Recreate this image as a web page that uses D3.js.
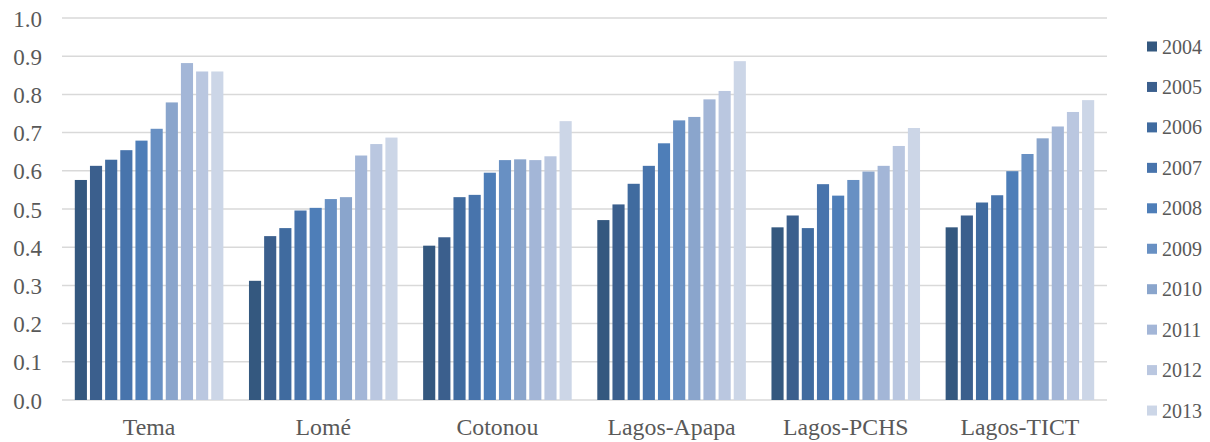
<!DOCTYPE html>
<html>
<head>
<meta charset="utf-8">
<script src="https://cdn.jsdelivr.net/npm/d3@7/dist/d3.min.js"></script>
<style>
  html, body { margin: 0; padding: 0; background: #ffffff; }
  svg { display: block; }
  text { font-family: "Liberation Serif", "Times New Roman", serif; fill: #595959; }
</style>
</head>
<body>
<svg id="chart" width="1210" height="442"></svg>
<script>
// Port terminals and the years shown for each
const ports = ["Tema", "Lomé", "Cotonou", "Lagos-Apapa", "Lagos-PCHS", "Lagos-TICT"];
const years = ["2004", "2005", "2006", "2007", "2008", "2009", "2010", "2011", "2012", "2013"];

// One array per port, values for 2004..2013
const tema       = [0.576, 0.613, 0.629, 0.654, 0.679, 0.710, 0.779, 0.882, 0.860, 0.860];
const lome       = [0.312, 0.429, 0.450, 0.496, 0.503, 0.526, 0.531, 0.640, 0.670, 0.687];
const cotonou    = [0.404, 0.426, 0.531, 0.537, 0.595, 0.628, 0.630, 0.628, 0.638, 0.730];
const lagosApapa = [0.471, 0.512, 0.566, 0.613, 0.672, 0.732, 0.741, 0.787, 0.809, 0.887];
const lagosPCHS  = [0.452, 0.483, 0.450, 0.565, 0.535, 0.576, 0.598, 0.613, 0.665, 0.712];
const lagosTICT  = [0.452, 0.483, 0.517, 0.536, 0.599, 0.644, 0.685, 0.716, 0.754, 0.785];

const yTicks = [0.0, 0.1, 0.2, 0.3, 0.4, 0.5, 0.6, 0.7, 0.8, 0.9, 1.0];

const seriesByPort = [tema, lome, cotonou, lagosApapa, lagosPCHS, lagosTICT];
const yearColors = ["#34587f", "#3b5f8d", "#406b9f", "#4874ac", "#4e7eb8", "#6890c3",
                    "#8aa5cc", "#a3b6d7", "#bac7e0", "#ccd6e7"];

const svg = d3.select("#chart");
const plot = { left: 62, right: 1107, top: 18, bottom: 400 };
const serif = "'Liberation Serif', 'Times New Roman', serif";

const x0 = d3.scaleBand().domain(ports).range([plot.left, plot.right])
  .paddingInner(0.147).paddingOuter(0.0735);
const x1 = d3.scaleBand().domain(years).range([0, x0.bandwidth()])
  .paddingInner(0.2).paddingOuter(0);
const y = d3.scaleLinear().domain([0, 1]).range([plot.bottom, plot.top]);
const color = d3.scaleOrdinal().domain(years).range(yearColors);

// horizontal gridlines
svg.append("g").selectAll("line").data(yTicks).join("line")
  .attr("x1", plot.left).attr("x2", plot.right)
  .attr("y1", d => y(d)).attr("y2", d => y(d))
  .attr("stroke", "#d9d9d9").attr("stroke-width", 1.5);

// y axis labels
const yAxis = d3.axisLeft(y).tickValues(yTicks).tickFormat(d3.format(".1f")).tickSize(0).tickPadding(0);
const ya = svg.append("g").attr("transform", `translate(${plot.left - 20},0)`).call(yAxis);
ya.select(".domain").remove();
ya.attr("font-family", serif);
ya.selectAll("text").attr("font-size", 23).attr("fill", "#595959")
  .style("font-family", serif).attr("dy", "0.35em");

// bars
const groups = svg.append("g").selectAll("g").data(ports).join("g")
  .attr("transform", d => `translate(${x0(d)},0)`);
groups.selectAll("rect")
  .data((p, i) => seriesByPort[i].map((v, j) => ({ year: years[j], value: v })))
  .join("rect")
  .attr("x", d => x1(d.year))
  .attr("width", x1.bandwidth())
  .attr("y", d => y(d.value))
  .attr("height", d => y(0) - y(d.value))
  .attr("fill", d => color(d.year));

// x axis category labels
const xAxis = d3.axisBottom(x0).tickSize(0).tickPadding(0);
const xa = svg.append("g").attr("transform", `translate(0,${plot.bottom + 35})`).call(xAxis);
xa.select(".domain").remove();
xa.attr("font-family", serif);
xa.selectAll("text").attr("font-size", 23.8).attr("fill", "#595959").attr("dy", 0)
  .style("font-family", serif);

// legend
const legend = svg.append("g").selectAll("g").data(years).join("g")
  .attr("transform", (d, i) => `translate(1147,${46.5 + i * 40.45})`);
legend.append("rect").attr("x", 0).attr("y", -5).attr("width", 10).attr("height", 10)
  .attr("fill", d => color(d));
legend.append("text").attr("x", 15).attr("y", 7).attr("font-size", 20)
  .style("font-family", serif).text(d => d);
</script>
</body>
</html>
